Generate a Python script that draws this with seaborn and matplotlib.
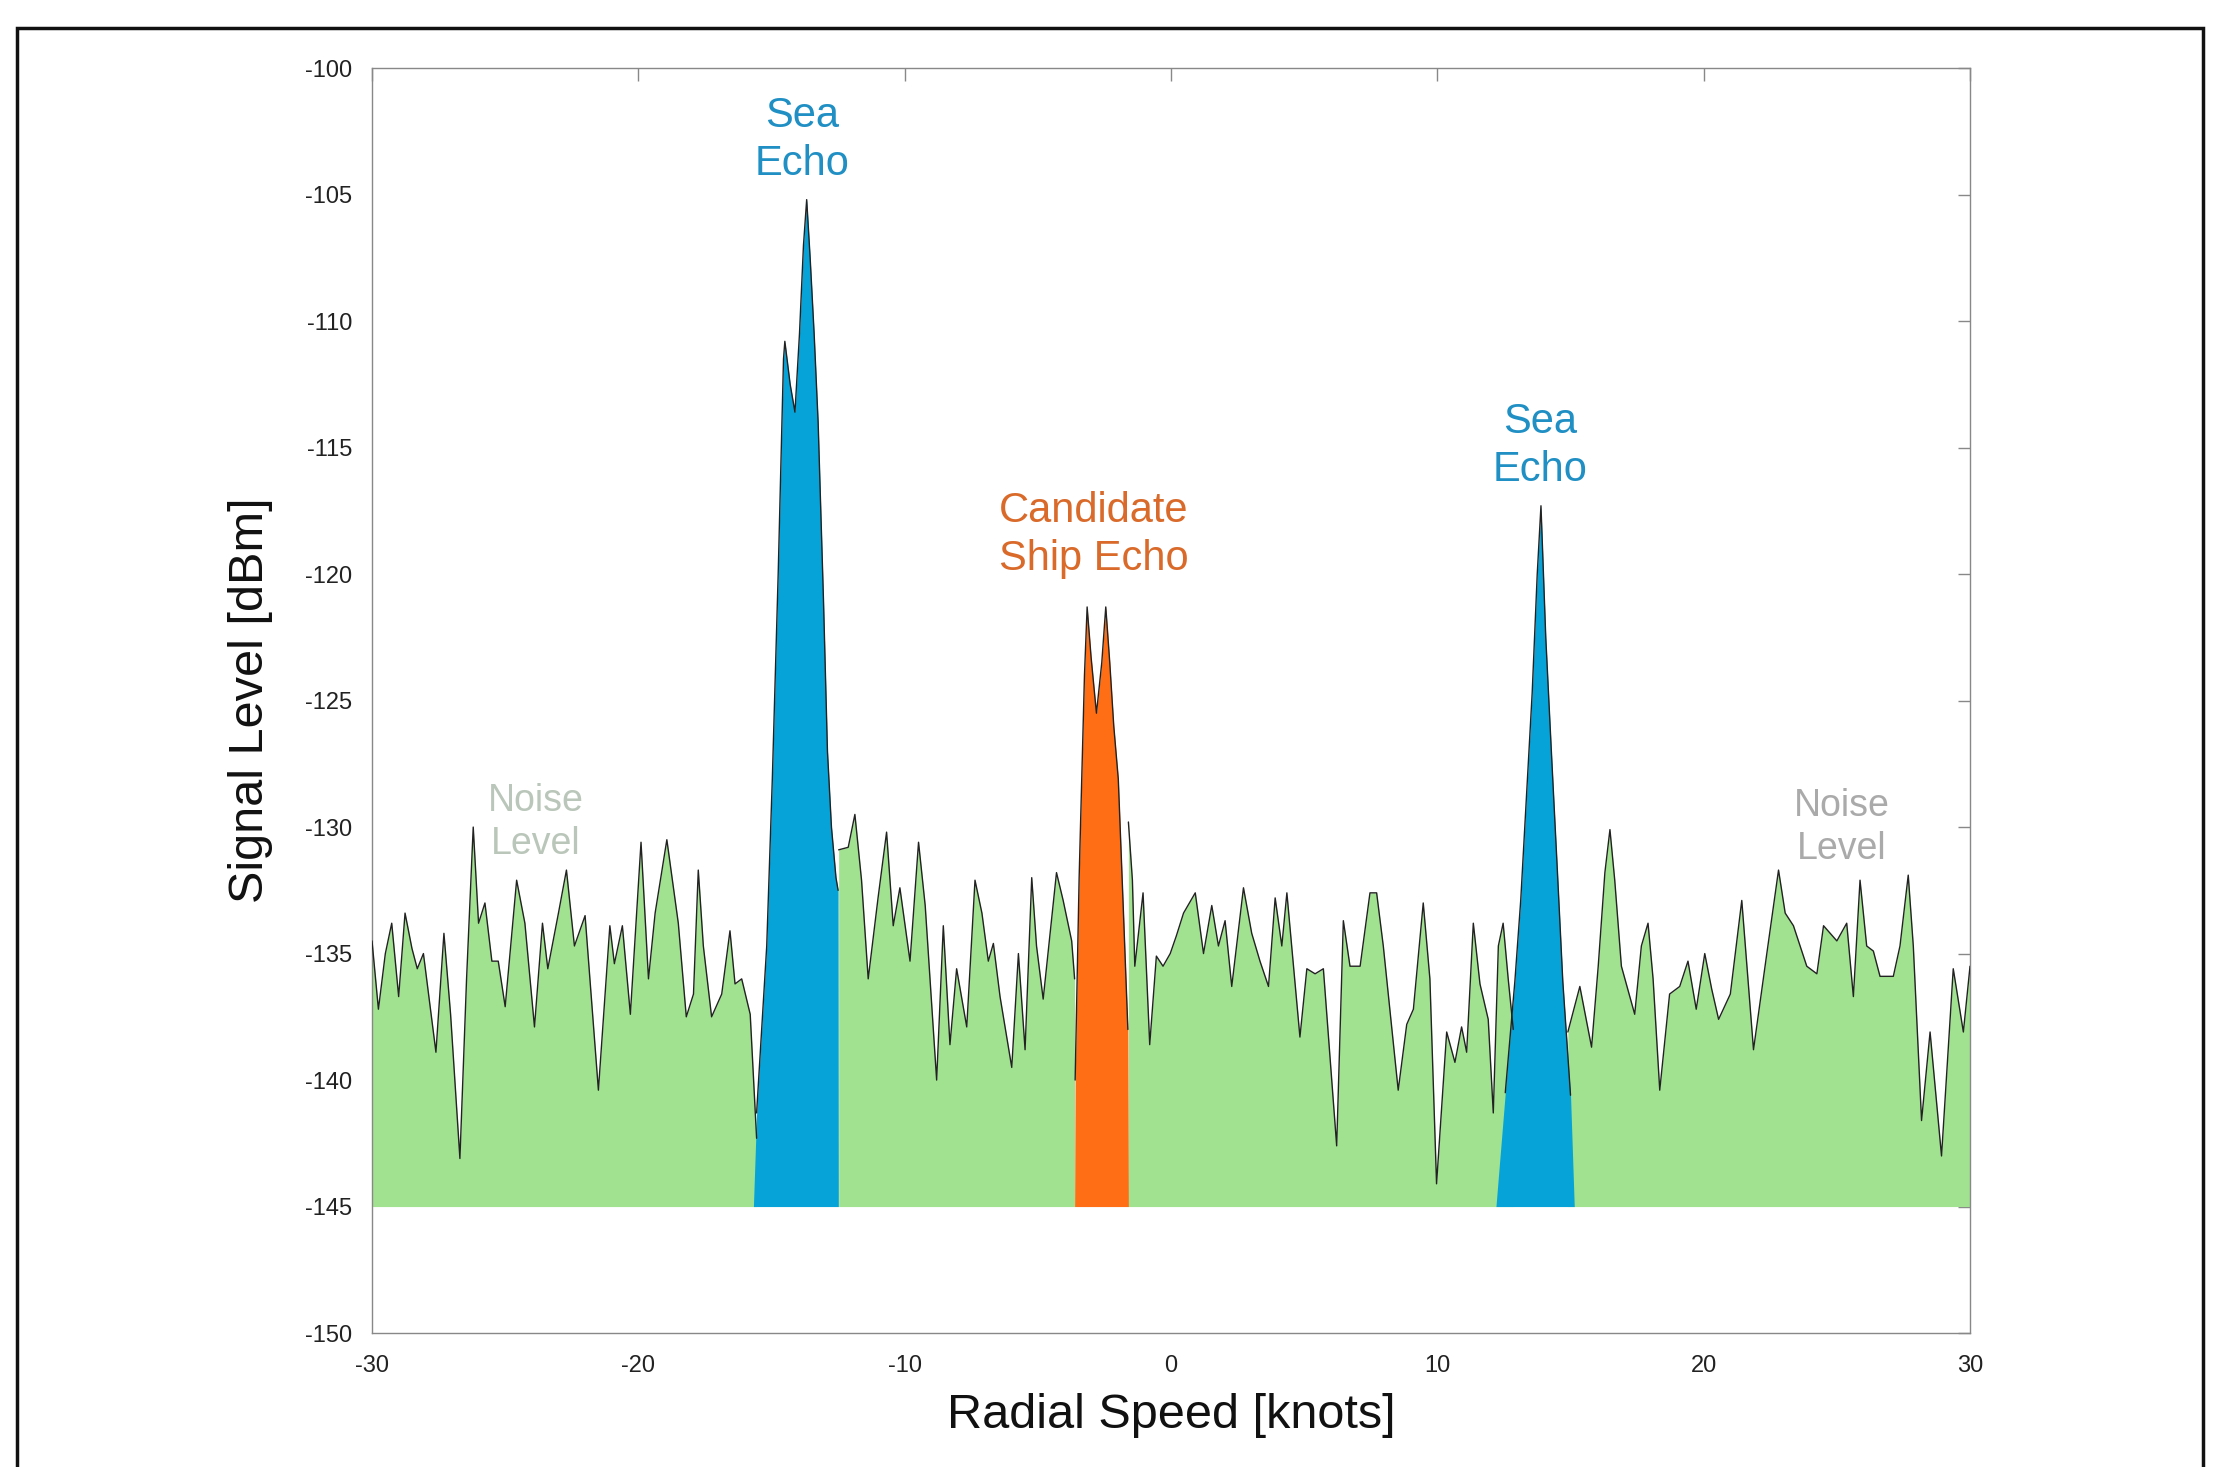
import numpy as np
import pandas as pd
import matplotlib
matplotlib.use('Agg')
import matplotlib.pyplot as plt
import seaborn as sns
from matplotlib.patches import Rectangle

# Doppler spectrum: radial speed [knots] vs signal level [dBm]
# noise floor, left of the first sea echo
noise_a_x = [-30.0, -29.76, -29.5, -29.26, -29.0, -28.76, -28.5, -28.3, -28.07, -27.6, -27.3, -27.05,
             -26.7, -26.45, -26.2, -26.0, -25.76, -25.5, -25.26, -25.0, -24.57, -24.26, -23.9, -23.6,
             -23.4, -23.0, -22.7, -22.4, -22.0, -21.5, -21.07, -20.9, -20.6, -20.3, -19.9, -19.62,
             -19.37, -18.93, -18.5, -18.2, -17.93, -17.75, -17.56, -17.25, -16.87, -16.56, -16.37,
             -16.12, -15.8, -15.56]
noise_a_db = [-134.5, -137.2, -135.0, -133.8, -136.7, -133.4, -134.8, -135.6, -135.0, -138.9, -134.2, -137.4,
              -143.1, -136.0, -130.0, -133.8, -133.0, -135.3, -135.3, -137.1, -132.1, -133.8, -137.9, -133.8,
              -135.6, -133.4, -131.7, -134.7, -133.5, -140.4, -133.9, -135.4, -133.9, -137.4, -130.6, -136.0,
              -133.4, -130.5, -133.8, -137.5, -136.6, -131.7, -134.7, -137.5, -136.6, -134.1, -136.2,
              -136.0, -137.4, -142.3]

# noise floor between the first sea echo and the ship echo
noise_b_x = [-12.48, -12.12, -11.87, -11.62, -11.37, -11.0, -10.68, -10.43, -10.18, -9.8, -9.48, -9.23,
             -8.8, -8.55, -8.3, -8.05, -7.67, -7.36, -7.1, -6.86, -6.67, -6.42, -5.98, -5.73, -5.48,
             -5.23, -5.05, -4.8, -4.3, -4.05, -3.73, -3.62]
noise_b_db = [-130.9, -130.8, -129.5, -132.1, -136.0, -132.8, -130.2, -133.9, -132.4, -135.3, -130.6, -133.1,
              -140.0, -133.9, -138.6, -135.6, -137.9, -132.1, -133.4, -135.3, -134.6, -136.7, -139.5, -135.0, -138.8,
              -132.0, -134.7, -136.8, -131.8, -132.9, -134.5, -136.0]

# noise floor between the ship echo and the second sea echo
noise_c_x = [-1.6, -1.45, -1.36, -1.05, -0.8, -0.55, -0.3, -0.03, 0.2, 0.47, 0.91, 1.22, 1.53, 1.78, 2.03,
             2.28, 2.72, 3.03, 3.34, 3.66, 3.91, 4.16, 4.35, 4.53, 4.84, 5.1, 5.41, 5.72, 6.22, 6.47, 6.72,
             7.1, 7.47, 7.72, 7.97, 8.53, 8.85, 9.1, 9.47, 9.72, 9.97, 10.35, 10.66, 10.91, 11.1, 11.35,
             11.6, 11.91, 12.1, 12.29, 12.47, 12.66, 12.85]
noise_c_db = [-129.8, -132.1, -135.5, -132.6, -138.6, -135.1, -135.5, -135.0, -134.3, -133.4, -132.6, -135.0, -133.1, -134.7, -133.7,
              -136.3, -132.4, -134.2, -135.3, -136.3, -132.8, -134.7, -132.6, -134.7, -138.3, -135.6, -135.8, -135.6, -142.6, -133.7, -135.5,
              -135.5, -132.6, -132.6, -134.7, -140.4, -137.8, -137.2, -133.0, -136.0, -144.1, -138.1, -139.3, -137.9, -138.9, -133.8,
              -136.2, -137.6, -141.3, -134.7, -133.8, -136.0, -138.0]

# noise floor right of the second sea echo
noise_d_x = [14.9, 15.35, 15.79, 16.04, 16.29, 16.48, 16.66, 16.91, 17.41, 17.66, 17.91, 18.1, 18.35, 18.72,
             19.1, 19.41, 19.72, 20.04, 20.3, 20.56, 21.0, 21.43, 21.87, 22.37, 22.81, 23.06, 23.37, 23.87,
             24.25, 24.5, 25.0, 25.37, 25.62, 25.87, 26.12, 26.37, 26.62, 27.12, 27.37, 27.68, 27.87, 28.18,
             28.5, 28.93, 29.37, 29.75, 30.0]
noise_d_db = [-138.1, -136.3, -138.7, -135.5, -131.8, -130.1, -132.1, -135.5, -137.4, -134.7, -133.8, -136.0, -140.4, -136.6,
              -136.3, -135.3, -137.2, -135.0, -136.4, -137.6, -136.6, -132.9, -138.8, -135.0, -131.7, -133.4, -133.9, -135.5,
              -135.8, -133.9, -134.5, -133.8, -136.7, -132.1, -134.7, -134.9, -135.9, -135.9, -134.7, -131.9, -134.7, -141.6,
              -138.1, -143.0, -135.6, -138.1, -135.5]

# echoes
sea1_x = [-15.68, -15.56, -15.18, -14.97, -14.75, -14.55, -14.5, -14.3, -14.12, -13.95, -13.8, -13.68,
          -13.55, -13.4, -13.25, -13.05, -12.9, -12.75, -12.58, -12.5, -12.49]
sea1_db = [-145.0, -141.3, -134.7, -128.1, -120.0, -111.5, -110.8, -112.5, -113.6, -110.5, -107.0, -105.2,
           -107.5, -110.5, -114.0, -121.0, -127.0, -130.0, -132.0, -132.5, -145.0]

ship_x = [-3.62, -3.6, -3.45, -3.35, -3.25, -3.15, -3.0, -2.8, -2.6, -2.45, -2.3, -2.15, -1.98, -1.8, -1.62, -1.6]
ship_db = [-145.0, -140.0, -132.0, -128.0, -124.0, -121.3, -123.3, -125.5, -123.5, -121.3, -123.5, -126.0,
           -128.1, -133.0, -138.0, -145.0]

sea2_x = [12.2, 12.55, 12.91, 13.13, 13.56, 13.75, 13.89, 14.07, 14.28, 14.5, 14.71, 15.0, 15.14]
sea2_db = [-145.0, -140.5, -136.1, -132.9, -124.7, -120.0, -117.3, -122.5, -127.0, -131.6, -136.1, -140.6, -145.0]

xticks = [-30, -20, -10, 0, 10, 20, 30]
yticks = [-150, -145, -140, -135, -130, -125, -120, -115, -110, -105, -100]
floor = -145

green = '#a0e28f'
blue = '#06a3d8'
orange = '#ff6d14'

sns.set_theme(style='white')
plt.rcParams['font.family'] = ['Liberation Sans', 'DejaVu Sans']
plt.rcParams['axes.unicode_minus'] = False

noise = [(noise_a_x, noise_a_db), (noise_b_x, noise_b_db), (noise_c_x, noise_c_db), (noise_d_x, noise_d_db)]
echoes = [(sea1_x, sea1_db, blue), (ship_x, ship_db, orange), (sea2_x, sea2_db, blue)]

# one frame for the outline, segment by segment
rows = []
for i, (x, y) in enumerate(noise):
    rows.append(pd.DataFrame({'speed': x, 'level': y, 'seg': 'n%d' % i}))
for i, (x, y, c) in enumerate(echoes):
    d = pd.DataFrame({'speed': x, 'level': y, 'seg': 'e%d' % i})
    rows.append(d[d.level > floor])
df = pd.concat(rows, ignore_index=True)

fig = plt.figure(figsize=(22.21, 14.67), dpi=100)
ax = fig.add_axes([0.1675, 0.0913, 0.7195, 0.8623])

for x, y in noise:
    ax.fill_between(x, y, floor, color=green, lw=0, zorder=1)
for x, y, c in echoes:
    ax.fill_between(x, y, floor, color=c, lw=0, zorder=2)

sns.lineplot(data=df, x='speed', y='level', units='seg', estimator=None, sort=False,
             color='#222222', lw=1.0, ax=ax, zorder=3, legend=False)

ax.set_xlim(-30, 30)
ax.set_ylim(-150, -100)
ax.set_xticks(xticks)
ax.set_yticks(yticks)
ax.tick_params(direction='in', top=True, right=True, length=9, width=1, color='#888888',
               labelsize=17, labelcolor='#222222')
ax.tick_params(axis='y', pad=14)
ax.tick_params(axis='x', pad=16)
for s in ax.spines.values():
    s.set_color('#888888')
    s.set_linewidth(1.0)

ax.set_xlabel('Radial Speed [knots]', fontsize=35, color='#111111')
ax.set_ylabel('Signal Level [dBm]', fontsize=35, color='#111111')
ax.xaxis.set_label_coords(0.5, -0.047)
ax.yaxis.set_label_coords(-0.062, 0.5)

ax.text(-13.86, -102.85, 'Sea\nEcho', color='#1f8fc4', fontsize=30, ha='center', va='center', linespacing=1.25)
ax.text(-2.9, -118.45, 'Candidate\nShip Echo', color='#d96a2a', fontsize=30, ha='center', va='center', linespacing=1.25)
ax.text(13.85, -114.95, 'Sea\nEcho', color='#1f8fc4', fontsize=30, ha='center', va='center', linespacing=1.25)
ax.text(-23.85, -129.8, 'Noise\nLevel', color='#b9c6b9', fontsize=27, ha='center', va='center', linespacing=1.25)
ax.text(25.2, -130.0, 'Noise\nLevel', color='#aaaaaa', fontsize=27, ha='center', va='center', linespacing=1.25)

# border of the scanned page, cut off at the bottom
fig.add_artist(Rectangle((0.0077, -0.05), 0.9843, 1.031, transform=fig.transFigure,
                         fill=False, lw=2.5, edgecolor='#111111'))

fig.savefig('out.png', dpi=100)
